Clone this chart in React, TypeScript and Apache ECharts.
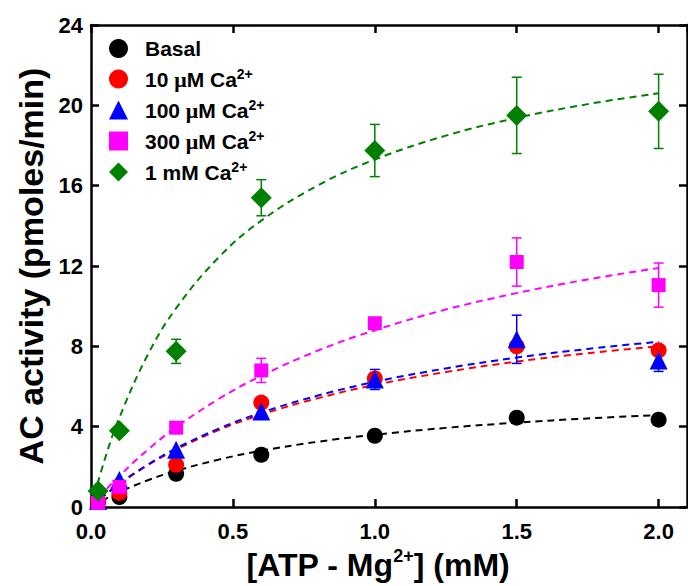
import React, { useEffect, useRef } from 'react';
import * as echarts from 'echarts';

// Measured points
const xData = [0.025, 0.1, 0.3, 0.6, 1.0, 1.5, 2.0];
const basal = [0.25, 0.5, 1.65, 2.6, 3.55, 4.45, 4.35];
const ca10 = [0.3, 0.7, 2.1, 5.2, 6.4, 8.0, 7.8];
const ca100 = [0.3, 1.35, 2.85, 4.75, 6.35, 8.35, 7.3];
const ca300 = [0.2, 1.0, 3.95, 6.8, 9.15, 12.2, 11.05];
const ca1000 = [0.8, 3.8, 7.75, 15.4, 17.75, 19.5, 19.7];

// Error bars (0 = none visible)
const errBasal = [0, 0, 0, 0, 0, 0, 0];
const err10 = [0, 0, 0, 0, 0, 0, 0];
const err100 = [0, 0, 0, 0, 0.5, 1.2, 0.55];
const err300 = [0, 0, 0, 0.6, 0, 1.2, 1.1];
const err1000 = [0, 0, 0.6, 0.9, 1.3, 1.9, 1.85];

// Fitted dashed curves
const xFit = [0, 0.05, 0.1, 0.2, 0.3, 0.45, 0.6, 0.8, 1.0, 1.25, 1.5, 1.75, 2.0];
const fitBasal = [0, 0.39, 0.74, 1.33, 1.8, 2.36, 2.8, 3.25, 3.6, 3.94, 4.2, 4.41, 4.58];
const fit10 = [0, 0.6, 1.14, 2.08, 2.86, 3.83, 4.6, 5.42, 6.08, 6.72, 7.24, 7.66, 8.0];
const fit100 = [0, 0.61, 1.16, 2.11, 2.92, 3.9, 4.7, 5.55, 6.23, 6.9, 7.44, 7.87, 8.23];
const fit300 = [0, 0.81, 1.55, 2.85, 3.97, 5.38, 6.53, 7.79, 8.8, 9.83, 10.65, 11.33, 11.9];
const fit1000 = [0, 2.44, 4.45, 7.58, 9.9, 12.43, 14.26, 16.02, 17.3, 18.49, 19.37, 20.06, 20.6];

const xTicks = { min: 0, max: 2.1, interval: 0.5 };
const yTicks = { min: 0, max: 24, interval: 4 };

const names = ['Basal', '10 μM Ca2+', '100 μM Ca2+', '300 μM Ca2+', '1 mM Ca2+'];
const legendText: Record<string, string> = {
  'Basal': '{sp| }{b|Basal}',
  '10 μM Ca2+': '{sp| }{b|10 }{mu|μ}{b|M Ca}{sup|2+}',
  '100 μM Ca2+': '{sp| }{b|100 }{mu|μ}{b|M Ca}{sup|2+}',
  '300 μM Ca2+': '{sp| }{b|300 }{mu|μ}{b|M Ca}{sup|2+}',
  '1 mM Ca2+': '{sp| }{b|1 mM Ca}{sup|2+}',
};

const FONT = '"Liberation Sans", Arial, sans-serif';

function pts(ys: number[]) {
  return xData.map((x, i) => [x, ys[i]]);
}
function fitPts(ys: number[]) {
  return xFit.map((x, i) => [x, ys[i]]);
}

function errorSeries(name: string, ys: number[], errs: number[], color: string) {
  const data = xData
    .map((x, i) => [x, ys[i], errs[i]])
    .filter((d) => d[2] > 0);
  return {
    type: 'custom',
    name: name + ' err',
    data,
    z: 3,
    silent: true,
    renderItem: (params: any, api: any) => {
      const x = api.value(0);
      const y = api.value(1);
      const e = api.value(2);
      const top = api.coord([x, y + e]);
      const bot = api.coord([x, y - e]);
      const hw = 5;
      const style = { stroke: color, lineWidth: 1.5, fill: 'none' };
      return {
        type: 'group',
        children: [
          { type: 'line', shape: { x1: top[0], y1: top[1], x2: bot[0], y2: bot[1] }, style },
          { type: 'line', shape: { x1: top[0] - hw, y1: top[1], x2: top[0] + hw, y2: top[1] }, style },
          { type: 'line', shape: { x1: bot[0] - hw, y1: bot[1], x2: bot[0] + hw, y2: bot[1] }, style },
        ],
      };
    },
  };
}

function fitSeries(name: string, ys: number[], color: string) {
  return {
    type: 'line',
    name: name + ' fit',
    data: fitPts(ys),
    smooth: 0.4,
    showSymbol: false,
    symbol: 'none',
    silent: true,
    z: 2,
    lineStyle: { color, width: 2, type: [7, 5] },
  };
}

function scatterSeries(name: string, ys: number[], color: string, symbol: string, size: number) {
  return {
    type: 'scatter',
    name,
    data: pts(ys),
    symbol,
    symbolSize: size,
    z: 4,
    itemStyle: { color, opacity: 1 },
  };
}

export default function App() {
  const ref = useRef<HTMLDivElement>(null);
  useEffect(() => {
    if (!ref.current) return;
    const chart = echarts.init(ref.current, undefined, { renderer: 'svg' });
    const axisLine = { show: true, onZero: false, lineStyle: { color: '#000', width: 2.5 } };
    const axisTick = { show: true, inside: true, length: 8, lineStyle: { color: '#000', width: 2.5 } };
    const labelStyle = { fontFamily: FONT, fontWeight: 'bold', fontSize: 22, color: '#000' };
    const colors = ['#000000', '#ff0000', '#0000ff', '#ff00ff', '#008000'];
    const option: any = {
      animation: false,
      backgroundColor: '#ffffff',
      grid: { left: 91, right: 1, top: 25, bottom: 79, containLabel: false },
      xAxis: [
        {
          type: 'value', position: 'bottom', ...xTicks,
          axisLine, axisTick,
          splitLine: { show: false },
          axisLabel: { ...labelStyle, margin: 13, showMaxLabel: false, formatter: (v: number) => v.toFixed(1) },
          name: '{t|[ATP - Mg}{s|2+}{t|] (mM)}',
          nameLocation: 'middle',
          nameGap: 40,
          nameTextStyle: {
            padding: [0, 22, 0, 0],
            rich: {
              t: { fontFamily: FONT, fontWeight: 'bold', fontSize: 32, color: '#000', lineHeight: 36 },
              s: { fontFamily: FONT, fontWeight: 'bold', fontSize: 18, color: '#000', verticalAlign: 'top', lineHeight: 22 },
            },
          },
        },
        {
          type: 'value', position: 'top', ...xTicks,
          axisLine, axisTick,
          splitLine: { show: false },
          axisLabel: { show: false },
        },
      ],
      yAxis: [
        {
          type: 'value', position: 'left', ...yTicks,
          axisLine, axisTick,
          splitLine: { show: false },
          axisLabel: { ...labelStyle, margin: 8 },
          name: 'AC activity (pmoles/min)',
          nameLocation: 'middle',
          nameGap: 33,
          nameTextStyle: { fontFamily: FONT, fontWeight: 'bold', fontSize: 34, color: '#000' },
        },
        {
          type: 'value', position: 'right', ...yTicks,
          axisLine, axisTick,
          splitLine: { show: false },
          axisLabel: { show: false },
        },
      ],
      legend: {
        data: names,
        orient: 'vertical',
        left: 104,
        top: 33,
        itemWidth: 19,
        itemHeight: 19,
        itemGap: 8,
        selectedMode: false,
        formatter: (n: string) => legendText[n],
        textStyle: {
          rich: {
            sp: { width: 12 },
            b: { fontFamily: FONT, fontWeight: 'bold', fontSize: 21, color: '#000', lineHeight: 24 },
            mu: { fontFamily: '"Liberation Serif", serif', fontWeight: 'bold', fontSize: 22, color: '#000', lineHeight: 24 },
            sup: { fontFamily: FONT, fontWeight: 'bold', fontSize: 14, color: '#000', verticalAlign: 'top', lineHeight: 14 },
          },
        },
      },
      series: [
        fitSeries(names[0], fitBasal, colors[0]),
        fitSeries(names[1], fit10, colors[1]),
        fitSeries(names[2], fit100, colors[2]),
        fitSeries(names[3], fit300, colors[3]),
        fitSeries(names[4], fit1000, colors[4]),
        errorSeries(names[0], basal, errBasal, colors[0]),
        errorSeries(names[1], ca10, err10, colors[1]),
        errorSeries(names[2], ca100, err100, colors[2]),
        errorSeries(names[3], ca300, err300, colors[3]),
        errorSeries(names[4], ca1000, err1000, colors[4]),
        scatterSeries(names[0], basal, colors[0], 'circle', 16),
        scatterSeries(names[1], ca10, colors[1], 'circle', 16),
        scatterSeries(names[2], ca100, colors[2], 'triangle', 18),
        scatterSeries(names[3], ca300, colors[3], 'rect', 14),
        scatterSeries(names[4], ca1000, colors[4], 'diamond', 21),
      ],
    };
    chart.setOption(option);
    return () => chart.dispose();
  }, []);
  return (
    <div
      ref={ref}
      style={{ position: 'absolute', left: 0, top: 0, width: 688, height: 586, background: '#fff' }}
    />
  );
}
